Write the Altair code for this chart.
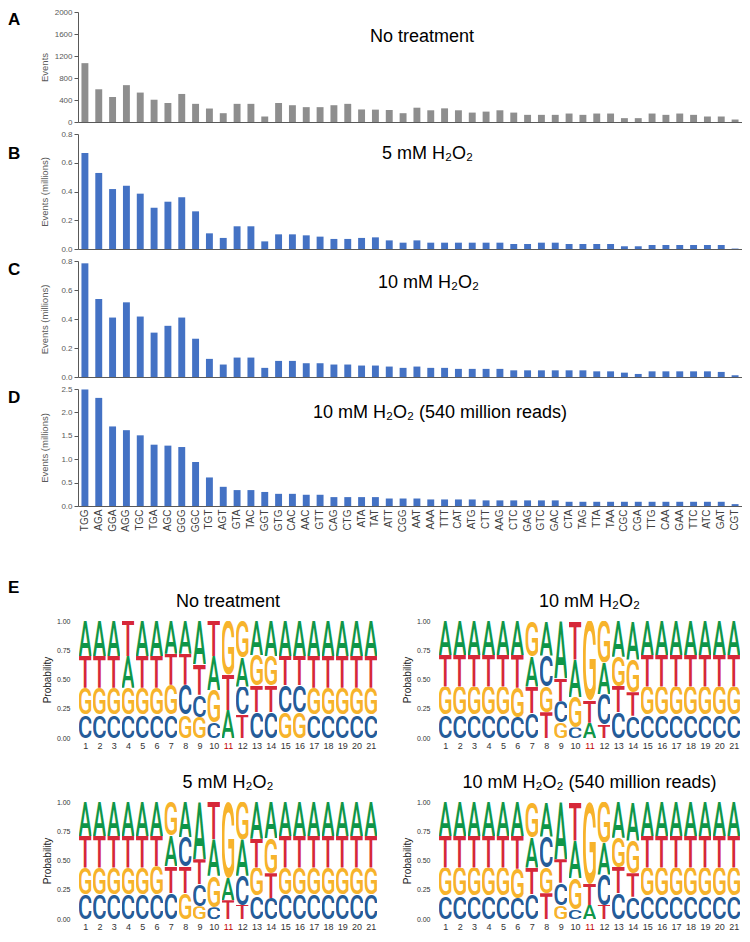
import base64
import altair as alt
import pandas as pd

# ---------------- data ----------------
codons = ["TGG", "AGA", "GGA", "AGG", "TGC", "TGA", "AGC", "GGG", "GGC", "TGT",
          "AGT", "GTA", "TAC", "GGT", "GTG", "CAC", "AAC", "GTT", "CAG", "CTG",
          "ATA", "TAT", "ATT", "CGG", "AAT", "AAA", "TTT", "CAT", "ATG", "CTT",
          "AAG", "CTC", "GAG", "GTC", "GAC", "CTA", "TAG", "TTA", "TAA", "CGC",
          "CGA", "TTG", "CAA", "GAA", "TTC", "ATC", "GAT", "CGT"]

events_untreated = [1070, 595, 455, 670, 535, 405, 345, 510, 330, 245,
                    160, 330, 330, 100, 345, 305, 270, 270, 305, 330,
                    228, 225, 218, 160, 260, 213, 248, 213, 171, 189,
                    213, 171, 130, 130, 130, 154, 130, 154, 154, 70,
                    70, 154, 130, 154, 130, 100, 100, 45]

events_5mm = [0.668, 0.529, 0.417, 0.44, 0.385, 0.287, 0.329, 0.36, 0.262, 0.109,
              0.077, 0.158, 0.158, 0.053, 0.102, 0.102, 0.095, 0.086, 0.07, 0.07,
              0.077, 0.081, 0.06, 0.044, 0.06, 0.044, 0.044, 0.044, 0.044, 0.044,
              0.044, 0.035, 0.035, 0.044, 0.044, 0.035, 0.035, 0.035, 0.035, 0.019,
              0.019, 0.028, 0.028, 0.028, 0.028, 0.028, 0.028, 0.003]

events_10mm = [0.784, 0.538, 0.41, 0.515, 0.417, 0.306, 0.353, 0.41, 0.264, 0.125,
               0.086, 0.134, 0.134, 0.063, 0.111, 0.111, 0.095, 0.095, 0.086, 0.086,
               0.079, 0.079, 0.072, 0.063, 0.072, 0.063, 0.063, 0.056, 0.056, 0.056,
               0.056, 0.046, 0.046, 0.046, 0.046, 0.046, 0.046, 0.039, 0.039, 0.03,
               0.021, 0.039, 0.039, 0.039, 0.039, 0.039, 0.035, 0.012]

events_10mm_540m = [2.49, 2.31, 1.70, 1.62, 1.51, 1.31, 1.29, 1.26, 0.94, 0.61,
                    0.41, 0.34, 0.34, 0.30, 0.26, 0.26, 0.24, 0.24, 0.19, 0.19,
                    0.19, 0.19, 0.16, 0.16, 0.16, 0.14, 0.14, 0.14, 0.14, 0.12,
                    0.12, 0.12, 0.12, 0.12, 0.12, 0.09, 0.09, 0.09, 0.09, 0.09,
                    0.09, 0.09, 0.09, 0.09, 0.09, 0.09, 0.09, 0.04]

positions = list(range(1, 22))

logo_untreated = {
    "A": [.30, .30, .30, .27, .30, .30, .28, .28, .37, .29, .24, .25, .29, .30, .30, .30, .30, .30, .30, .30, .30],
    "C": [.20, .20, .20, .20, .20, .20, .20, .255, .19, .13, .00, .24, .22, .22, .23, .23, .20, .20, .20, .20, .20],
    "G": [.23, .23, .23, .23, .23, .23, .255, .20, .18, .28, .46, .31, .26, .25, .22, .22, .23, .23, .23, .23, .23],
    "T": [.27, .27, .27, .30, .27, .27, .265, .265, .26, .30, .30, .20, .23, .23, .25, .25, .27, .27, .27, .27, .27],
}
logo_10mm = {
    "A": [.29, .29, .29, .29, .29, .29, .26, .295, .49, .32, .13, .27, .305, .33, .29, .29, .29, .29, .29, .29, .29],
    "C": [.20, .20, .20, .20, .20, .18, .21, .26, .185, .09, .00, .26, .22, .19, .20, .20, .20, .20, .20, .20, .20],
    "G": [.24, .24, .24, .24, .24, .25, .30, .225, .13, .26, .68, .355, .25, .28, .24, .24, .24, .24, .24, .24, .24],
    "T": [.27, .27, .27, .27, .27, .28, .23, .22, .195, .33, .19, .115, .225, .20, .27, .27, .27, .27, .27, .27, .27],
}
logo_5mm = {
    "A": [.29, .29, .29, .29, .29, .29, .26, .30, .49, .31, .19, .31, .315, .31, .29, .29, .29, .29, .29, .29, .29],
    "C": [.21, .21, .21, .21, .21, .21, .22, .25, .19, .10, .00, .25, .20, .18, .21, .21, .21, .21, .21, .21, .21],
    "G": [.23, .23, .23, .23, .23, .24, .29, .22, .11, .27, .65, .32, .24, .30, .23, .23, .23, .23, .23, .23, .23],
    "T": [.27, .27, .27, .27, .27, .26, .23, .23, .21, .32, .16, .12, .245, .21, .27, .27, .27, .27, .27, .27, .27],
}
logo_10mm_540m = {
    "A": [.29, .29, .29, .29, .29, .29, .26, .295, .49, .32, .12, .27, .305, .33, .29, .29, .29, .29, .29, .29, .29],
    "C": [.20, .20, .20, .20, .20, .18, .21, .26, .19, .08, .00, .26, .22, .19, .20, .20, .20, .20, .20, .20, .20],
    "G": [.24, .24, .24, .24, .24, .25, .30, .225, .12, .27, .70, .35, .25, .28, .24, .24, .24, .24, .24, .24, .24],
    "T": [.27, .27, .27, .27, .27, .28, .23, .22, .20, .33, .18, .12, .225, .20, .27, .27, .27, .27, .27, .27, .27],
}

# ---------------- styles ----------------
FONT = "Liberation Sans"
AX = "#595959"
GREY_BAR = "#8E8E8E"
BLUE_BAR = "#4472C4"
LETTER_COLORS = {"A": "#109648", "C": "#255C99", "G": "#F7B32B", "T": "#D62839"}
# glyph ink boxes (font-size 100): x-min, width, y-min, height
GLYPH_BOX = {"A": (-31.8, 63.6, -71.2, 71.2), "C": (-28.2, 56.4, -72.2, 73.2),
             "G": (-29.0, 57.6, -72.2, 73.2), "T": (-29.2, 58.4, -71.2, 71.2)}


def glyph_url(letter):
    x0, w, y0, h = GLYPH_BOX[letter]
    svg = (f"<svg xmlns='http://www.w3.org/2000/svg' width='{w}' height='{h}' "
           f"viewBox='{x0} {y0} {w} {h}' preserveAspectRatio='none'>"
           f"<text x='0' y='0' text-anchor='middle' font-family='Roboto, Liberation Sans, Arial, sans-serif' "
           f"font-weight='500' font-size='100' fill='{LETTER_COLORS[letter]}'>{letter}</text></svg>")
    return "data:image/svg+xml;base64," + base64.b64encode(svg.encode("utf-8")).decode("ascii")


GLYPHS = {L: glyph_url(L) for L in "ACGT"}


def text_layer(txt, x, y, size, bold=False, color="#000000", align="left", baseline="middle"):
    kw = dict(align=align, baseline=baseline, fontSize=size, font=FONT, color=color)
    if bold:
        kw["fontWeight"] = "bold"
    return alt.Chart(pd.DataFrame({"t": [txt]})).mark_text(**kw).encode(
        text="t:N", x=alt.value(x), y=alt.value(y))


def bar_panel(values, color, ymax, ticks, ytitle, letter, title, tx, ty, ly, height, last=False, fmt=None):
    df = pd.DataFrame({"codon": codons, "events": values})
    if last:
        xaxis = alt.Axis(title=None, labelAngle=270, labelFontSize=10, labelColor="#404040",
                         ticks=False, labelPadding=3, domainColor=AX, labelFont=FONT)
    else:
        xaxis = alt.Axis(title=None, labels=False, ticks=False, domainColor=AX)
    ykw = dict(title=ytitle, values=ticks, grid=False, domainColor=AX, tickColor=AX, tickSize=4,
               labelFontSize=8, labelColor=AX, labelPadding=2, labelFont=FONT,
               titleFontSize=9.5, titleFontWeight="normal", titleColor=AX, titleFont=FONT,
               titlePadding=5, minExtent=24, maxExtent=24)
    if fmt:
        ykw["format"] = fmt
    bars = alt.Chart(df).mark_bar(color=color).encode(
        x=alt.X("codon:N", sort=codons, axis=xaxis,
                scale=alt.Scale(paddingInner=0.5, paddingOuter=0.25)),
        y=alt.Y("events:Q", axis=alt.Axis(**ykw), scale=alt.Scale(domain=[0, ymax], nice=False)),
    )
    return alt.layer(
        bars,
        text_layer(title, tx, ty, 18),
        text_layer(letter, -70, ly, 17, bold=True),
    ).properties(width=664, height=height)


def logo_df(probs):
    rows = []
    for L in "ACGT":
        for pos, p in zip(positions, probs[L]):
            rows.append({"pos": pos, "letter": L, "p": p})
    df = pd.DataFrame(rows)
    df["url"] = df["letter"].map(GLYPHS)
    return df


def logo_panel(probs, title, width, letter_e=False, dummy=False):
    df = logo_df(probs)
    xaxis = alt.Axis(title=None, values=positions, format="d", grid=False, domain=False,
                     ticks=False, tickSize=0, labelFontSize=9, labelPadding=3, labelFont=FONT,
                     labelColor=alt.condition("datum.value == 11", alt.value("#C00000"), alt.value("#333333")))
    yaxis = alt.Axis(title="Probability", values=[0, 0.25, 0.5, 0.75, 1], format=".2f", grid=False,
                     domain=False, ticks=False, tickSize=0, labelFontSize=7, labelColor="#333333",
                     labelPadding=8, labelFont=FONT, titleFontSize=10, titleFontWeight="normal",
                     titleColor="#222222", titleFont=FONT, titlePadding=4, minExtent=22, maxExtent=22)
    glyphs = alt.Chart(df).transform_filter("datum.p > 0").transform_stack(
        stack="p", groupby=["pos"], as_=["y0", "y1"], sort=[alt.SortField("p", order="ascending")]
    ).transform_calculate(
        x0="datum.pos - 0.45", x1="datum.pos + 0.45"
    ).mark_image(aspect=False).encode(
        x=alt.X("x0:Q", axis=xaxis, scale=alt.Scale(domain=[0.5, 21.5], nice=False, zero=False)),
        x2="x1:Q",
        y=alt.Y("y0:Q", axis=yaxis, scale=alt.Scale(domain=[0, 1], nice=False)),
        y2="y1:Q",
        url="url:N",
    )
    layers = [glyphs, text_layer(title, width / 2, -14, 18, align="center", baseline="alphabetic")]
    if letter_e:
        layers.append(text_layer("E", -70, -33, 17, bold=True))
    if dummy:
        layers.append(text_layer("E", -70, 40, 17, bold=True, color="#ffffff"))
    return alt.layer(*layers).properties(width=width, height=117)


pA = bar_panel(events_untreated, GREY_BAR, 2000, [0, 400, 800, 1200, 1600, 2000], "Events",
               "A", "No treatment", 292, 25, 8, 110, fmt="d")
pB = bar_panel(events_5mm, BLUE_BAR, 0.8, [0, 0.2, 0.4, 0.6, 0.8], "Events (millions)",
               "B", "5 mM H\u2082O\u2082", 304, 20, 19.5, 115)
pC = bar_panel(events_10mm, BLUE_BAR, 0.8, [0, 0.2, 0.4, 0.6, 0.8], "Events (millions)",
               "C", "10 mM H\u2082O\u2082", 300, 22, 9, 116)
pD = bar_panel(events_10mm_540m, BLUE_BAR, 2.5, [0, 0.5, 1, 1.5, 2, 2.5], "Events (millions)",
               "D", "10 mM H\u2082O\u2082 (540 million reads)", 235, 24, 8.5, 117, last=True)

L1 = logo_panel(logo_untreated, "No treatment", 300, letter_e=True)
L2 = logo_panel(logo_10mm, "10 mM H\u2082O\u2082", 303)
L3 = logo_panel(logo_5mm, "5 mM H\u2082O\u2082", 300, dummy=True)
L4 = logo_panel(logo_10mm_540m, "10 mM H\u2082O\u2082 (540 million reads)", 303)

bars_block = alt.vconcat(pA, pB, pC, pD, spacing=4)
logos_block = alt.vconcat(alt.hconcat(L1, L2, spacing=24), alt.hconcat(L3, L4, spacing=24), spacing=24)

chart = alt.vconcat(bars_block, logos_block, spacing=46).properties(
    padding=0
).configure(font=FONT).configure_view(stroke=None)

chart.save("out.html", embed_options={"renderer": "svg", "actions": False})
